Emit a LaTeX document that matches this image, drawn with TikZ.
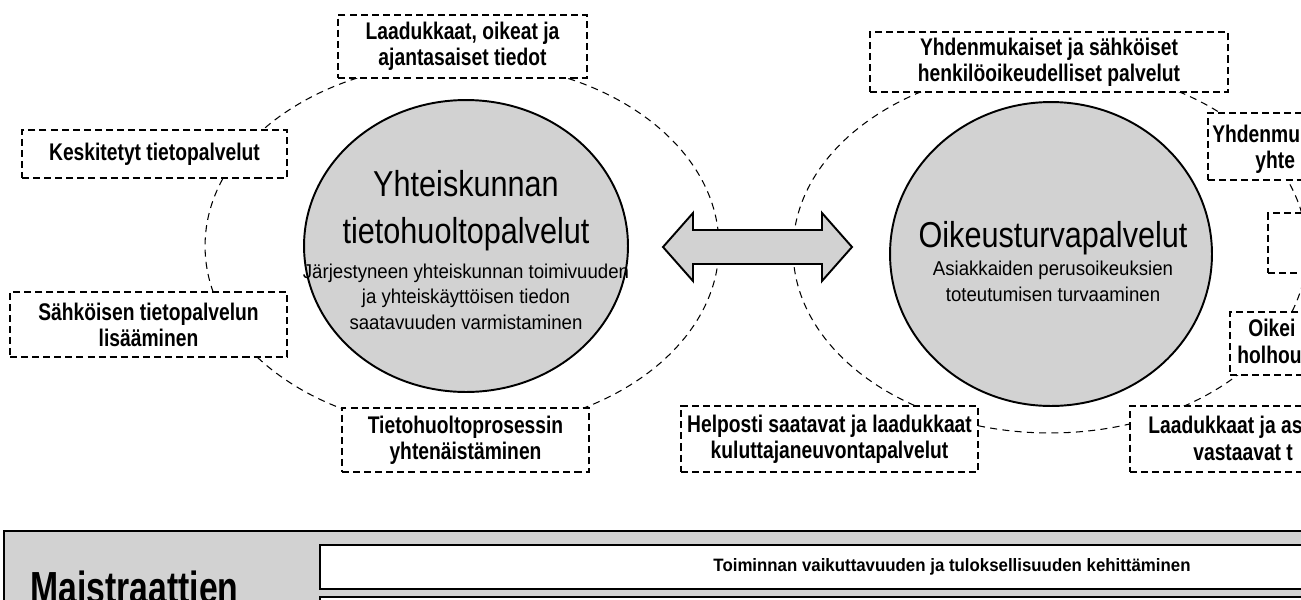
\documentclass[tikz,border=0pt]{standalone}
\usepackage{fontspec}
\setmainfont{Liberation Sans}
\newfontfamily\titlefamily{Liberation Sans}[FakeStretch=0.85]
\newfontfamily\notefamily{Liberation Sans}[FakeStretch=0.93]
\newfontfamily\boxfamily{Liberation Sans}[FakeStretch=0.8]
\newfontfamily\goalfamily{Liberation Sans}[FakeStretch=0.94]
\newfontfamily\bannerfamily{Liberation Sans}[FakeStretch=0.75]
\newcommand\titlefont{\titlefamily\fontsize{20.5pt}{26.2pt}\selectfont}
\newcommand\notefont{\notefamily\fontsize{11.4pt}{14.5pt}\selectfont}
\newcommand\boxfont{\boxfamily\bfseries\fontsize{13.7pt}{14.8pt}\selectfont}
\newcommand\goalfont{\goalfamily\bfseries\fontsize{10.2pt}{12pt}\selectfont}
\newcommand\bannerfont{\bannerfamily\bfseries\fontsize{25.6pt}{30pt}\selectfont}
\usetikzlibrary{shapes.geometric, positioning}

\begin{document}
\begin{tikzpicture}[
  x=0.02cm, y=-0.02cm,
  orbit/.style={line width=0.6pt, dash pattern=on 4pt off 3pt},
  service/.style={ellipse, draw, line width=1.1pt, fill=gray!35},
  aim/.style={draw, line width=0.9pt, dash pattern=on 4pt off 2.3pt, fill=white, align=center, inner sep=0pt, font=\boxfont},
  cuttext/.style={anchor=base west, inner sep=0pt, font=\boxfont},
  title/.style={anchor=base, align=center, inner sep=0pt, font=\titlefont},
  note/.style={anchor=base, align=center, inner sep=0pt, font=\notefont},
]
  \useasboundingbox (0,0) rectangle (1301,599);
  \clip (0,0) rectangle (1301,599);

  % Dashed orbits round the two services
  \draw[orbit] (462,246) ellipse [x radius=5.14cm, y radius=3.68cm];
  \draw[orbit] (1050,250) ellipse [x radius=5.14cm, y radius=3.66cm];

  % Services (base of a text block = its last line)
  \node[service, minimum width=6.48cm, minimum height=5.84cm] (yht) at (466,246) {};
  \node[service, minimum width=6.44cm, minimum height=6.08cm] (oik) at (1051,254) {};
  \node[title] (yhtT) at (466,243) {Yhteiskunnan\\tietohuoltopalvelut};
  \node[note] (yhtN) at (466,329) {Järjestyneen yhteiskunnan toimivuuden\\ja yhteiskäyttöisen tiedon\\saatavuuden varmistaminen};
  \node[title] (oikT) at (1053,247) {Oikeusturvapalvelut};
  \node[note] (oikN) at (1053,301) {Asiakkaiden perusoikeuksien\\toteutumisen turvaaminen};

  % Double arrow between the services
  \draw[line width=1.1pt, fill=gray!35] (663,247) -- (693,213) -- (693,230) -- (822,230) -- (822,213)
    -- (852,247) -- (822,281) -- (822,264) -- (693,264) -- (693,281) -- cycle;

  % Left aims
  \node[aim, minimum width=4.98cm, minimum height=1.26cm] (laatu) at (462.5,46.5) {Laadukkaat, oikeat ja\\ajantasaiset tiedot};
  \node[aim, minimum width=5.3cm, minimum height=0.96cm] (keski) at (154.5,154) {Keskitetyt tietopalvelut};
  \node[aim, minimum width=5.54cm, minimum height=1.3cm] (sahko) at (148.5,324.5) {Sähköisen tietopalvelun\\lisääminen};
  \node[aim, minimum width=4.94cm, minimum height=1.28cm] (prose) at (465.5,440) {Tietohuoltoprosessin\\yhtenäistäminen};

  % Right aims
  \node[aim, minimum width=7.16cm, minimum height=1.2cm] (henk) at (1049,62) {Yhdenmukaiset ja sähköiset\\henkilöoikeudelliset palvelut};
  \node[aim, minimum width=5.94cm, minimum height=1.32cm] (kulu) at (829.5,439) {Helposti saatavat ja laadukkaat\\kuluttajaneuvontapalvelut};
  \node[aim, minimum width=3.04cm, minimum height=1.34cm] (yhde) at (1284,146.5) {};
  \node[aim, minimum width=1.84cm, minimum height=1.2cm] (tyhja) at (1314,243) {};
  \node[aim, minimum width=2.6cm, minimum height=1.26cm] (holh) at (1295,343.5) {};
  \node[aim, minimum width=4.6cm, minimum height=1.32cm] (asia) at (1245,439) {};
  \node[cuttext] (yhde1) at (1212,142) {Yhdenmu};
  \node[cuttext] (yhde2) at (1255,168) {yhte};
  \node[cuttext] (holh1) at (1248,336) {Oikei};
  \node[cuttext] (holh2) at (1237,363) {holhou};
  \node[cuttext] (asia1) at (1148,433) {Laadukkaat ja as};
  \node[cuttext] (asia2) at (1193,460) {vastaavat t};

  % Bottom panel
  \draw[line width=1.2pt, fill=gray!35] (4,531) rectangle (1330,660);
  \node[draw, line width=1.2pt, fill=white, minimum width=25.28cm, minimum height=0.88cm, font=\goalfont] (tulos) at (952,567) {Toiminnan vaikuttavuuden ja tuloksellisuuden kehittäminen};
  \draw[line width=1.2pt, fill=white] (320,597) rectangle (1330,680);
  \node[anchor=base west, inner sep=0pt, font=\bannerfont] (maist) at (30,603) {Maistraattien};
\end{tikzpicture}
\end{document}
